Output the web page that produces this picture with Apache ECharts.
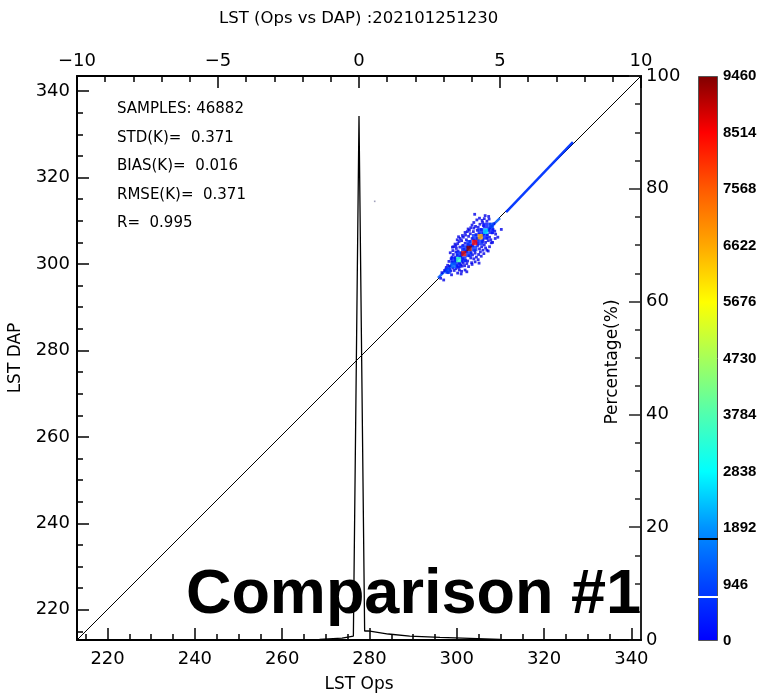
<!DOCTYPE html>
<html>
<head>
<meta charset="utf-8">
<script src="https://cdn.jsdelivr.net/npm/echarts@6/dist/echarts.min.js"></script>
<style>
    html, body { margin: 0; padding: 0; background: #fff; }
    #main { width: 761px; height: 697px; }
</style>
</head>
<body>
<div id="main"></div>
<script>
    // axis ranges / ticks
    const xRange = [213, 342.2]
    const yRange = [213, 343.5]
    const lstMajor = [220, 240, 260, 280, 300, 320, 340]
    const lstMinor = [215, 225, 230, 235, 245, 250, 255, 265, 270, 275, 285, 290, 295, 305, 310, 315, 325, 330, 335]
    const cbTicks = [0, 946, 1892, 2838, 3784, 4730, 5676, 6622, 7568, 8514, 9460]
    const cbMarks = [1708, 737]

    // stats
    const statLines = ['SAMPLES: 46882', 'STD(K)=  0.371', 'BIAS(K)=  0.016', 'RMSE(K)=  0.371', 'R=  0.995']

    // 1:1 line
    const diagLine = [[213, 213], [342.2, 343.5]]
    // dense diagonal streaks (blue)
    const streakA = [[295.7, 296.8], [309.9, 310.6]]
    const streakB = [[311.3, 312.0], [326.6, 328.2]]

    // 2D histogram bins [ops, dap, count]
    const bins = [
        [300.4, 301.0, 3500], [301.6, 302.4, 8800], [302.8, 303.6, 9400],
        [304.1, 305.0, 8500], [305.4, 306.3, 6700], [306.6, 307.6, 2550],
        [299.2, 301.0, 350], [300.4, 302.3, 500], [301.6, 301.1, 450], [300.4, 299.7, 300],
        [301.6, 303.7, 600], [302.8, 302.3, 550], [302.8, 304.9, 650], [304.1, 303.6, 600],
        [304.1, 306.3, 550], [305.4, 305.0, 500], [305.4, 307.6, 400], [306.6, 306.3, 350],
        [306.6, 308.9, 250], [307.9, 307.6, 250],
        [299.2, 299.7, 1300], [298.0, 298.4, 900], [307.9, 308.9, 1000]
    ]

    // single-count samples
    const dots = [
        [297.2, 298.5], [297.6, 299.2], [298.0, 298.0], [297.9, 299.7], [298.4, 299.5], [298.6, 298.4],
        [298.9, 300.4], [298.2, 300.6], [299.1, 299.1], [299.4, 298.5], [297.5, 298.8], [298.8, 297.5],
        [298.9, 301.6], [299.2, 302.2], [299.6, 301.5], [299.8, 302.8], [300.1, 302.1], [299.5, 300.0],
        [300.0, 299.6], [300.4, 299.2], [300.9, 299.8], [301.2, 299.5], [300.6, 298.6], [301.5, 300.2],
        [299.1, 303.1], [299.9, 303.6], [298.7, 301.2], [300.3, 303.0], [301.0, 302.5], [301.4, 301.2],
        [302.0, 300.8], [302.3, 300.1], [301.8, 299.6],
        [299.8, 304.2], [300.2, 304.7], [300.7, 303.9], [300.5, 305.2], [301.1, 305.4], [301.4, 304.3],
        [301.9, 304.8], [302.2, 305.6], [302.6, 304.5], [301.6, 303.4], [302.8, 301.9], [303.2, 301.4],
        [303.6, 302.1], [303.9, 301.2], [304.2, 302.5], [302.5, 300.7], [303.4, 300.3], [304.5, 301.6],
        [304.1, 303.1], [303.0, 305.2],
        [301.5, 306.2], [302.0, 306.7], [302.7, 306.4], [303.1, 307.0], [303.5, 305.9], [303.8, 307.5],
        [304.4, 306.8], [304.0, 305.5], [304.8, 304.3], [305.2, 303.5], [305.7, 304.0], [305.4, 302.8],
        [306.0, 303.2], [306.3, 304.4], [305.9, 305.1], [304.7, 307.8], [302.4, 307.5], [305.0, 302.2],
        [306.6, 303.7],
        [303.9, 308.3], [304.3, 308.7], [304.9, 308.5], [305.3, 309.2], [305.6, 308.0], [306.1, 308.9],
        [306.4, 307.7], [306.9, 306.0], [307.2, 305.4], [307.5, 306.2], [307.0, 306.8], [307.8, 305.6],
        [306.6, 305.0], [305.9, 309.6], [303.5, 309.0], [307.9, 304.9],
        [305.8, 310.1], [306.3, 310.5], [306.9, 309.9], [307.4, 310.4], [307.6, 309.2], [308.0, 308.7],
        [308.3, 308.0], [308.7, 307.6], [308.5, 309.3], [308.1, 307.2], [307.3, 311.0], [306.5, 311.2],
        [308.9, 306.9],
        [296.3, 296.7], [296.6, 298.0], [297.0, 296.3], [310.2, 308.0], [304.1, 311.5], [309.4, 306.2],
        [301.0, 297.7],
        [298.5, 302.6], [299.0, 303.9], [299.6, 304.6], [300.1, 305.6], [300.8, 305.9], [301.3, 306.6],
        [301.9, 307.3], [302.6, 308.1], [303.2, 308.4], [303.9, 309.6], [304.6, 310.2], [300.4, 306.3],
        [299.3, 304.0], [302.9, 307.8], [305.2, 310.6],
        [300.2, 297.9], [301.1, 298.3], [301.9, 298.6], [302.7, 299.4], [303.5, 299.9], [304.2, 300.5],
        [304.9, 301.0], [305.6, 301.8], [306.2, 302.4], [306.9, 303.2], [307.5, 304.0], [308.2, 305.0],
        [308.8, 305.9], [302.3, 298.2], [305.1, 300.2], [307.2, 303.0],
        [299.7, 301.1], [300.9, 301.6], [302.2, 302.9], [303.3, 302.6], [303.6, 304.2], [304.7, 304.9],
        [305.1, 306.9], [306.1, 307.0], [307.2, 307.8], [307.6, 308.4], [300.6, 300.2], [299.9, 300.6],
        [302.4, 303.9], [304.7, 306.0], [306.0, 305.6], [303.1, 304.2], [301.2, 300.6], [298.4, 298.8],
        [297.8, 298.2], [299.8, 298.9]
    ]
    const loneDot = [[281.2, 314.5]]

    // histogram of Ops - DAP (top axis) in percent (right axis)
    const histDiff = [-10, -1.4, -0.6, -0.2, 0, 0.2, 0.33, 1.04, 1.8, 2.87, 5, 10]
    const histPct = [0, 0.1, 0.35, 0.7, 92.9, 1.6, 1.6, 1.06, 0.7, 0.47, 0.1, 0]

    const jet = ['#0000ff', '#0044ff', '#0092ff', '#00ffff', '#50ffb0', '#a6ff5a',
        '#ffff00', '#ffa800', '#ff5a00', '#ff0000', '#800000']

    const FONT = 'DejaVu Sans'
    const myChart = echarts.init(document.getElementById('main'))

    const lbl = { color: '#000', fontSize: 18, fontFamily: FONT }
    const blackLine = { onZero: false, lineStyle: { color: '#000', width: 2 } }

    const cbGradient = new echarts.graphic.LinearGradient(0, 1, 0, 0,
        jet.map((c, i) => ({ offset: i / (jet.length - 1), color: c })))

    const option = {
        animation: false,
        backgroundColor: '#fff',
        title: {
            text: 'LST (Ops vs DAP) :202101251230',
            left: 214, top: 5,
            textStyle: { fontSize: 16.5, fontWeight: 'normal', fontFamily: FONT, color: '#000' }
        },
        grid: [
            { left: 77, top: 76, width: 564, height: 564, outerBoundsMode: 'none', containLabel: false },
            { left: 698, top: 76, width: 20, height: 565, outerBoundsMode: 'none', containLabel: false }
        ],
        visualMap: {
            type: 'continuous', show: false, min: 0, max: 9460, dimension: 2,
            seriesIndex: 4, inRange: { color: jet }
        },
        xAxis: [
            {
                type: 'value', gridIndex: 0, position: 'bottom', min: xRange[0], max: xRange[1],
                axisLine: blackLine, splitLine: { show: false },
                axisTick: { inside: true, length: 12, customValues: lstMajor, lineStyle: { color: '#000', width: 1.5 } },
                axisLabel: Object.assign({ customValues: lstMajor, margin: 10 }, lbl),
                name: 'LST Ops', nameLocation: 'middle', nameGap: 36,
                nameTextStyle: { fontSize: 17, fontFamily: FONT, color: '#000' }
            },
            {
                type: 'value', gridIndex: 0, position: 'top', min: -10, max: 10, interval: 5,
                axisLine: blackLine, splitLine: { show: false },
                axisTick: { inside: true, length: 12, lineStyle: { color: '#000', width: 1.5 } },
                minorTick: { show: true, splitNumber: 5, length: 6, lineStyle: { color: '#000', width: 1.5 } },
                axisLabel: Object.assign({ margin: 6, formatter: v => (v < 0 ? '\u2212' : '') + Math.abs(v) }, lbl)
            },
            {
                type: 'value', gridIndex: 0, position: 'bottom', min: xRange[0], max: xRange[1],
                axisLine: { show: false, onZero: false }, splitLine: { show: false }, axisLabel: { show: false },
                axisTick: { inside: true, length: 6, customValues: lstMinor, lineStyle: { color: '#000', width: 1.5 } }
            },
            {
                type: 'category', gridIndex: 1, data: ['c'], show: false
            }
        ],
        yAxis: [
            {
                type: 'value', gridIndex: 0, position: 'left', min: yRange[0], max: yRange[1],
                axisLine: blackLine, splitLine: { show: false },
                axisTick: { inside: true, length: 12, customValues: lstMajor, lineStyle: { color: '#000', width: 1.5 } },
                axisLabel: Object.assign({ customValues: lstMajor, margin: 7 }, lbl),
                name: 'LST DAP', nameLocation: 'middle', nameGap: 53,
                nameTextStyle: { fontSize: 17, fontFamily: FONT, color: '#000' }
            },
            {
                type: 'value', gridIndex: 0, position: 'right', min: 0, max: 100, interval: 20,
                axisLine: { onZero: false, lineStyle: { color: '#222', width: 2 } }, splitLine: { show: false },
                axisTick: { inside: true, length: 12, lineStyle: { color: '#222', width: 1.5 } },
                minorTick: { show: true, splitNumber: 4, length: 6, lineStyle: { color: '#222', width: 1.5 } },
                axisLabel: Object.assign({ margin: 5 }, lbl)
            },
            {
                type: 'value', gridIndex: 0, position: 'left', min: yRange[0], max: yRange[1],
                axisLine: { show: false, onZero: false }, splitLine: { show: false }, axisLabel: { show: false },
                axisTick: { inside: true, length: 6, customValues: lstMinor, lineStyle: { color: '#000', width: 1.5 } }
            },
            {
                type: 'value', gridIndex: 1, position: 'right', min: 0, max: 9460, interval: 946,
                axisLine: { show: false, onZero: false }, splitLine: { show: false },
                axisTick: { inside: true, length: 4, lineStyle: { color: '#333' } },
                minorTick: { show: true, splitNumber: 2, length: 3, lineStyle: { color: '#333' } },
                axisLabel: { margin: 5, color: '#000', fontSize: 15, fontWeight: 'bold', fontFamily: 'Liberation Sans',
                    customValues: cbTicks, formatter: v => String(v) }
            },
            {
                type: 'value', gridIndex: 1, position: 'left', min: 0, max: 9460, interval: 946,
                axisLine: { show: false, onZero: false }, splitLine: { show: false }, axisLabel: { show: false },
                axisTick: { inside: true, length: 4, lineStyle: { color: '#333' } },
                minorTick: { show: true, splitNumber: 2, length: 3, lineStyle: { color: '#333' } }
            }
        ],
        series: [
            {
                type: 'line', xAxisIndex: 0, yAxisIndex: 0, data: diagLine, symbol: 'none', z: 2,
                lineStyle: { color: '#000', width: 1 }
            },
            {
                type: 'line', xAxisIndex: 0, yAxisIndex: 0, data: streakA, symbol: 'none', z: 3,
                lineStyle: { color: '#1e6eff', width: 2.5 }
            },
            {
                type: 'line', xAxisIndex: 0, yAxisIndex: 0, data: streakB, symbol: 'none', z: 3,
                lineStyle: { color: '#0a3cff', width: 2.5 }
            },
            {
                type: 'scatter', xAxisIndex: 0, yAxisIndex: 0, data: dots, symbol: 'rect', symbolSize: 2.8, z: 4,
                itemStyle: { color: '#0000e8' }
            },
            {
                type: 'scatter', xAxisIndex: 0, yAxisIndex: 0, data: bins, symbol: 'rect', symbolSize: [5.6, 5.7], z: 5
            },
            {
                type: 'scatter', xAxisIndex: 0, yAxisIndex: 0, data: loneDot, symbol: 'rect', symbolSize: 1.6, z: 4,
                itemStyle: { color: '#8888aa' }
            },
            {
                type: 'line', xAxisIndex: 1, yAxisIndex: 1, symbol: 'none', z: 6,
                data: histDiff.map((d, i) => [d, histPct[i]]),
                lineStyle: { color: '#000', width: 1.3 }
            },
            {
                type: 'bar', xAxisIndex: 3, yAxisIndex: 3, data: [9460], barWidth: '100%',
                itemStyle: { color: cbGradient, borderColor: '#555', borderWidth: 1 },
                markLine: {
                    silent: true, symbol: 'none', label: { show: false },
                    data: [
                        { yAxis: cbMarks[0], lineStyle: { color: '#000', width: 2, type: 'solid' } },
                        { yAxis: cbMarks[1], lineStyle: { color: '#fff', width: 2, type: 'solid' } }
                    ]
                }
            }
        ],
        graphic: [
            ...statLines.map((t, i) => ({
                type: 'text', left: 117, top: 102 + i * 28.4,
                style: { text: t, fontSize: 15, fontFamily: FONT, fill: '#000' }
            })),
            {
                type: 'text', x: 613, y: 362, rotation: Math.PI / 2,
                style: { text: 'Percentage(%)', fontSize: 17, fontFamily: FONT, fill: '#000',
                    textAlign: 'center', textVerticalAlign: 'middle' }
            },
            {
                type: 'text', x: 641, y: 596, z: 100,
                style: { text: 'Comparison #1', fontSize: 63, fontWeight: 'bold', fontFamily: 'Liberation Sans',
                    fill: '#000', textAlign: 'right', textVerticalAlign: 'middle' }
            }
        ]
    }

    myChart.setOption(option)
</script>
</body>
</html>
